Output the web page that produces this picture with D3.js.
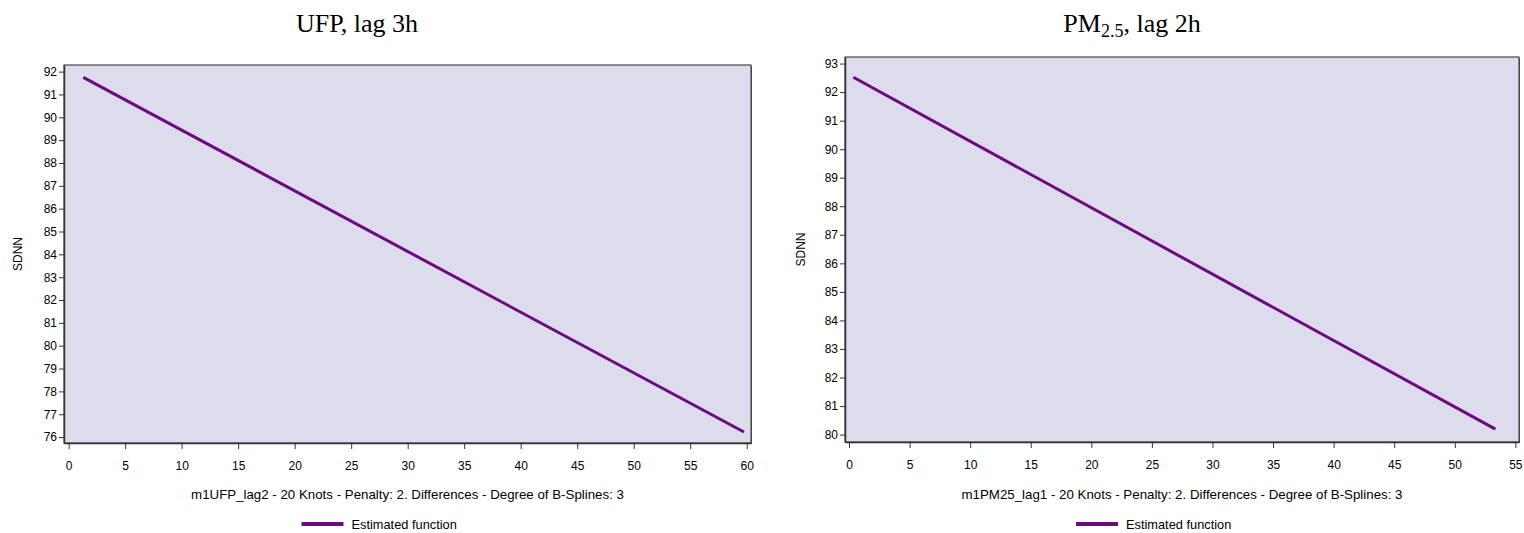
<!DOCTYPE html>
<html>
<head>
<meta charset="utf-8">
<script src="https://cdn.jsdelivr.net/npm/d3@7"></script>
<style>
  body { margin: 0; background: #fff; }
  svg text { font-family: "Liberation Sans", Arial, sans-serif; }
</style>
</head>
<body>
<div id="chart"></div>
<script>
// Chart size
const width = 1524;
const height = 533;

// Left panel data (UFP) - estimated function end points
const ufpX = [1.3, 59.76];
const ufpY = [91.75, 76.22];
const ufpXTicks = [0, 5, 10, 15, 20, 25, 30, 35, 40, 45, 50, 55, 60];
const ufpYTicks = [76, 77, 78, 79, 80, 81, 82, 83, 84, 85, 86, 87, 88, 89, 90, 91, 92];

// Right panel data (PM2.5)
const pmX = [0.36, 53.35];
const pmY = [92.52, 80.19];
const pmXTicks = [0, 5, 10, 15, 20, 25, 30, 35, 40, 45, 50, 55];
const pmYTicks = [80, 81, 82, 83, 84, 85, 86, 87, 88, 89, 90, 91, 92, 93];

const lineColor = "#6c0a82";
const bgColor = "#dcdcec";

const svg = d3.select("#chart")
  .append("svg")
  .attr("width", width)
  .attr("height", height);

// draws one panel
function drawPanel(p) {
  const g = svg.append("g");

  let xScale = d3.scaleLinear()
    .domain(p.xDomain)
    .range([p.left, p.right]);

  let yScale = d3.scaleLinear()
    .domain(p.yDomain)
    .range([p.bottom, p.top]);

  // plot background + frame shadow
  g.append("rect")
    .attr("x", p.left + 1)
    .attr("y", p.top + 1)
    .attr("width", p.right - p.left)
    .attr("height", p.bottom - p.top)
    .attr("fill", "#777");
  g.append("rect")
    .attr("x", p.left)
    .attr("y", p.top)
    .attr("width", p.right - p.left)
    .attr("height", p.bottom - p.top)
    .attr("fill", bgColor)
    .attr("stroke", "#222")
    .attr("stroke-width", 1);

  // y axis
  g.append("g")
    .attr("transform", `translate(${p.left},0)`)
    .call(d3.axisLeft(yScale).tickValues(p.yTicks).tickSize(5).tickSizeOuter(0).tickFormat(d3.format("d")))
    .call(ax => ax.select(".domain").attr("stroke", "#333").attr("stroke-width", 1.5))
    .call(ax => ax.selectAll(".tick line").attr("stroke", "#333"))
    .call(ax => ax.selectAll("text").attr("font-size", "12px").attr("fill", "#000")
      .attr("font-family", "Liberation Sans, Arial, sans-serif").attr("x", -7));

  // x axis
  g.append("g")
    .attr("transform", `translate(0,${p.bottom})`)
    .call(d3.axisBottom(xScale).tickValues(p.xTicks).tickSize(6).tickSizeOuter(0).tickFormat(d3.format("d")))
    .call(ax => ax.select(".domain").attr("stroke", "#333").attr("stroke-width", 1.5))
    .call(ax => ax.selectAll(".tick line").attr("stroke", "#333"))
    .call(ax => ax.selectAll("text").attr("font-size", "12px").attr("fill", "#000")
      .attr("font-family", "Liberation Sans, Arial, sans-serif").attr("y", 18));

  // estimated function
  const pts = p.xs.map((x, i) => [x, p.ys[i]]);
  g.append("path")
    .datum(pts)
    .attr("d", d3.line().x(d => xScale(d[0])).y(d => yScale(d[1])))
    .attr("fill", "none")
    .attr("stroke", lineColor)
    .attr("stroke-width", 3);

  // y label
  g.append("text")
    .attr("transform", `translate(${p.yLabelX},${(p.top + p.bottom) / 2}) rotate(-90)`)
    .attr("text-anchor", "middle")
    .attr("font-size", "12px")
    .text("SDNN");

  // x label
  g.append("text")
    .attr("x", (p.left + p.right) / 2)
    .attr("y", 499)
    .attr("text-anchor", "middle")
    .attr("font-size", "13.3px")
    .text(p.xLabel);

  // legend
  const lx = (p.left + p.right) / 2 - 106;
  g.append("line")
    .attr("x1", lx).attr("x2", lx + 42)
    .attr("y1", 524).attr("y2", 524)
    .attr("stroke", lineColor)
    .attr("stroke-width", 4);
  g.append("text")
    .attr("x", lx + 50)
    .attr("y", 528.5)
    .attr("font-size", "12.8px")
    .text("Estimated function");

  // title
  const t = g.append("text")
    .attr("x", p.titleX)
    .attr("y", 32)
    .attr("text-anchor", "middle")
    .attr("font-size", "26px")
    .style("font-family", "'Liberation Serif', 'Times New Roman', serif");
  p.title.forEach(part => {
    const ts = t.append("tspan").text(part.text);
    if (part.sub) {
      ts.attr("font-size", "18px").attr("dy", 5);
    } else if (part.after) {
      ts.attr("dy", -5);
    }
  });
}

drawPanel({
  left: 64, right: 751, top: 65, bottom: 443,
  xDomain: [-0.41, 60.38], yDomain: [75.74, 92.29],
  xTicks: ufpXTicks, yTicks: ufpYTicks,
  xs: ufpX, ys: ufpY,
  yLabelX: 22,
  xLabel: "m1UFP_lag2 - 20 Knots - Penalty: 2. Differences - Degree of B-Splines: 3",
  titleX: 357,
  title: [{text: "UFP, lag 3h"}]
});

drawPanel({
  left: 845, right: 1519, top: 57, bottom: 442,
  xDomain: [-0.33, 55.3], yDomain: [79.74, 93.23],
  xTicks: pmXTicks, yTicks: pmYTicks,
  xs: pmX, ys: pmY,
  yLabelX: 805,
  xLabel: "m1PM25_lag1 - 20 Knots - Penalty: 2. Differences - Degree of B-Splines: 3",
  titleX: 1132,
  title: [{text: "PM"}, {text: "2.5", sub: true}, {text: ", lag 2h", after: true}]
});
</script>
</body>
</html>
